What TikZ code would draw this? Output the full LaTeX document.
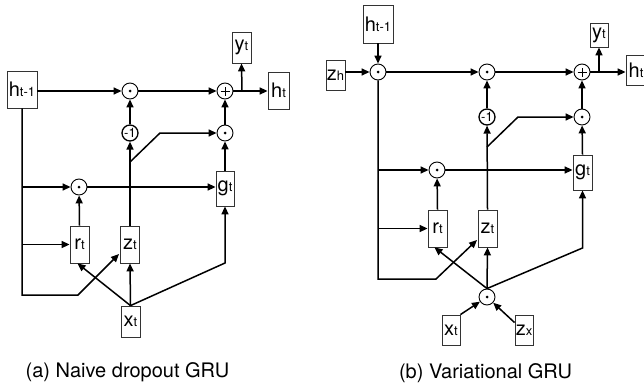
\documentclass[tikz,border=0pt]{standalone}
\usepackage{fontspec}
\setmainfont{TeX Gyre Heros}
\usetikzlibrary{arrows.meta}
\newcommand\glab[2]{{\fontsize{20}{20}\selectfont #1}{\fontsize{13}{13}\selectfont #2}}
\tikzset{
  bx/.style 2 args={draw=black!80, line width=0.8pt, inner sep=0pt, minimum width=#1pt, minimum height=#2pt},
  opbase/.style={circle, draw=black, line width=0.9pt, minimum size=16pt, inner sep=0pt},
  odot/.style={opbase, path picture={\fill (path picture bounding box.center) circle (1.5pt);}},
  oplus/.style={opbase, path picture={\draw[line width=0.8pt] ([xshift=-4.5pt]path picture bounding box.center) -- ([xshift=4.5pt]path picture bounding box.center) ([yshift=-4.5pt]path picture bounding box.center) -- ([yshift=4.5pt]path picture bounding box.center);}},
  mone/.style={opbase, line width=1.3pt, font=\fontsize{13}{13}\selectfont},
  arr/.style={-{Triangle[length=8pt,width=7pt]}, line width=1.5pt},
  captext/.style={font=\fontsize{20}{24}\selectfont}
}
\begin{document}
\begin{tikzpicture}[x=1pt,y=-1pt]
\useasboundingbox (0,0) rectangle (644,388);
% ---------------- (a) ----------------
\node[bx={30}{37}] (hA) at (22,89.5) {\glab{h}{t-1}};
\node[odot] (o1A) at (130,91) {};
\node[oplus] (plA) at (225,91) {};
\node[bx={19}{31}] (yA) at (241.5,47.5) {\glab{y}{t}};
\node[bx={21}{37}] (htA) at (278.5,90.5) {\glab{h}{t}};
\node[mone] (m1A) at (130,133) {-1};
\node[odot] (o2A) at (225,133) {};
\node[odot] (o3A) at (79,187) {};
\node[bx={18}{35}] (gA) at (225,188.5) {\glab{g}{t}};
\node[bx={19}{37}] (rA) at (79.5,244.5) {\glab{r}{t}};
\node[bx={19}{37}] (zA) at (130,244.5) {\glab{z}{t}};
\node[bx={19}{31}] (xA) at (130.5,321.5) {\glab{x}{t}};
\coordinate (brA) at (242,91);
\coordinate (dA1) at (130,162);
\coordinate (dA2) at (160,133);
\coordinate (cA1) at (22,295);
\coordinate (cA2) at (78,295);
\coordinate (tA) at (119,254);
\coordinate (kA) at (225,263);
\draw[arr] (hA.east |- o1A) -- (o1A);
\draw[arr] (o1A) -- (plA);
\draw[arr] (plA) -- (htA.west |- plA);
\draw[arr] (brA) -- (yA.south);
\draw[arr] (m1A) -- (o1A);
\draw[arr] (o2A) -- (plA);
\draw[arr] (gA.north) -- (o2A);
\draw[arr] (zA.north) -- (m1A);
\draw[arr] (dA1) -- (dA2) -- (o2A);
\draw[arr] (hA.south) -- (cA1) -- (cA2) -- (tA);
\draw[arr] (hA.south |- o3A) -- (o3A);
\draw[arr] (hA.south |- rA) -- (rA.west);
\draw[arr] (rA.north) -- (o3A);
\draw[arr] (o3A) -- (gA.west |- o3A);
\draw[arr] (xA.north) -- ([xshift=-2pt]rA.south);
\draw[arr] (xA.north) -- (zA.south);
\draw[arr] (xA.north) -- (kA) -- (gA.south);
\node[captext] (capA) at (127.5,372) {(a) Naive dropout GRU};
% ---------------- (b) ----------------
\node[bx={30}{38}] (hB) at (378,24) {\glab{h}{t-1}};
\node[bx={19}{30}] (zhB) at (335.5,75) {\glab{z}{h}};
\node[odot] (o1B) at (378,72) {};
\node[odot] (o2B) at (487,72) {};
\node[oplus] (plB) at (582,72) {};
\node[bx={18}{24}] (yB) at (599,35) {\glab{y}{t}};
\node[bx={20}{30}] (htB) at (636,70) {\glab{h}{t}};
\node[mone] (m1B) at (487,117) {-1};
\node[odot] (o3B) at (582,117) {};
\node[odot] (o4B) at (437,170) {};
\node[bx={19}{35}] (gB) at (582.5,172.5) {\glab{g}{t}};
\node[bx={19}{37}] (rB) at (437.5,228.5) {\glab{r}{t}};
\node[bx={19}{37}] (zB) at (487.5,228.5) {\glab{z}{t}};
\node[odot] (oxB) at (487,297) {};
\node[bx={18}{30}] (xB) at (451,330) {\glab{x}{t}};
\node[bx={18}{30}] (zxB) at (524,330) {\glab{z}{x}};
\coordinate (brB) at (599,72);
\coordinate (dB1) at (487,147);
\coordinate (dB2) at (518,117);
\coordinate (cB1) at (379,279);
\coordinate (cB2) at (436,279);
\coordinate (tB) at (477,240);
\coordinate (kB) at (582.5,248);
\draw[arr] (hB.south) -- (o1B);
\draw[arr] (zhB.east |- o1B) -- (o1B);
\draw[arr] (o1B) -- (o2B);
\draw[arr] (o2B) -- (plB);
\draw[arr] (plB) -- (htB.west |- plB);
\draw[arr] (brB) -- (yB.south);
\draw[arr] (m1B) -- (o2B);
\draw[arr] (o3B) -- (plB);
\draw[arr] (gB.north) -- (o3B);
\draw[arr] (zB.north) -- (m1B);
\draw[arr] (dB1) -- (dB2) -- (o3B);
\draw[arr] (o1B.south) -- (o1B.south |- cB1) -- (cB2) -- (tB);
\draw[arr] (o1B.south |- o4B) -- (o4B);
\draw[arr] (o1B.south |- rB) -- (rB.west);
\draw[arr] (rB.north) -- (o4B);
\draw[arr] (o4B) -- (gB.west |- o4B);
\draw[arr] (oxB.north) -- ([xshift=-3pt]rB.south);
\draw[arr] (oxB.north) -- (zB.south);
\draw[arr] (oxB.north) -- (kB) -- (gB.south);
\draw[arr] (xB.north east) -- (oxB);
\draw[arr] ([yshift=-8pt]zxB.north west) -- (oxB);
\node[captext] (capB) at (485.5,373) {(b) Variational GRU};
\end{tikzpicture}
\end{document}
